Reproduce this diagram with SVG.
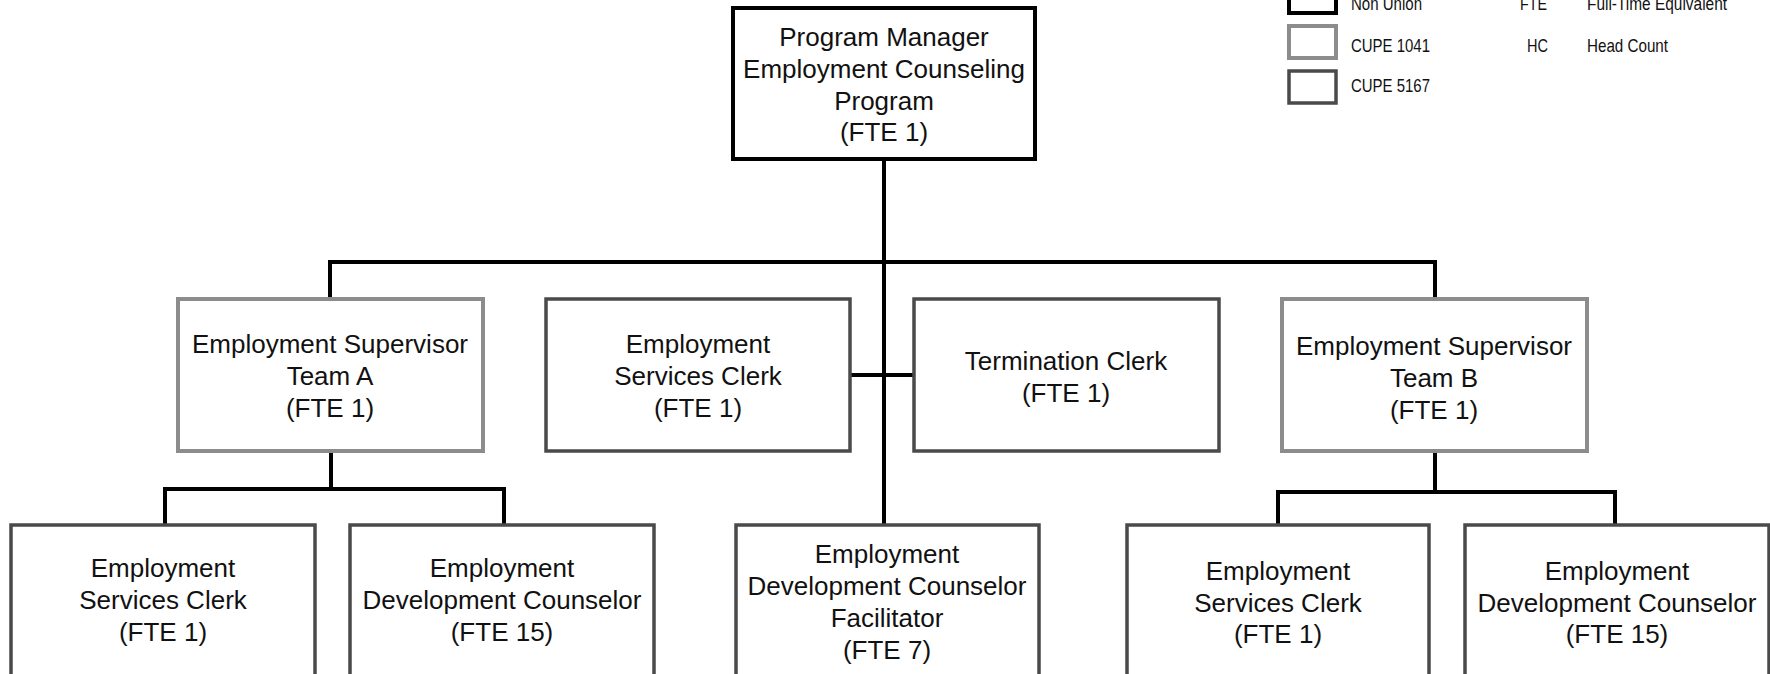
<svg xmlns="http://www.w3.org/2000/svg" width="1770" height="674" viewBox="0 0 1770 674">
<style>
.bg{fill:#ffffff}
.nonunion{fill:#ffffff;stroke:#000000;stroke-width:4}
.c1041{fill:#ffffff;stroke:#8c8c8c;stroke-width:4}
.c5167{fill:#ffffff;stroke:#4a4a4a;stroke-width:3.5}
.conn{fill:none;stroke:#000000;stroke-width:4;stroke-linecap:square}
.t{font-family:"Liberation Sans",Arial,sans-serif;font-size:26px;fill:#111111;text-anchor:middle}
.lg{font-family:"Liberation Sans",Arial,sans-serif;font-size:18.5px;fill:#111111}
</style>
<rect class="bg" x="0" y="0" width="1770" height="674"/>
<g id="connectors">
<path class="conn" d="M884,159 V525"/>
<path class="conn" d="M330,299 V262 H1435 V299"/>
<path class="conn" d="M850,375 H914"/>
<path class="conn" d="M331,451 V489"/>
<path class="conn" d="M165,525 V489 H504 V525"/>
<path class="conn" d="M1435,451 V492"/>
<path class="conn" d="M1278,525 V492 H1615 V525"/>
</g>
<g id="legend">
<rect class="nonunion" x="1289" y="-20" width="47" height="33"/>
<rect class="c1041" x="1289" y="26" width="47" height="32"/>
<rect class="c5167" x="1289" y="71" width="47" height="32"/>
<text class="lg" x="1351" y="10" textLength="71" lengthAdjust="spacingAndGlyphs">Non Union</text>
<text class="lg" x="1351" y="52" textLength="79" lengthAdjust="spacingAndGlyphs">CUPE 1041</text>
<text class="lg" x="1351" y="92" textLength="79" lengthAdjust="spacingAndGlyphs">CUPE 5167</text>
<text class="lg" x="1520" y="10" textLength="27" lengthAdjust="spacingAndGlyphs">FTE</text>
<text class="lg" x="1527" y="52" textLength="21" lengthAdjust="spacingAndGlyphs">HC</text>
<text class="lg" x="1587" y="10" textLength="140" lengthAdjust="spacingAndGlyphs">Full-Time Equivalent</text>
<text class="lg" x="1587" y="52" textLength="81" lengthAdjust="spacingAndGlyphs">Head Count</text>
</g>
<g id="program-manager">
<rect class="nonunion" x="733" y="8" width="302" height="151"/>
<text class="t" x="884" y="46">Program Manager</text>
<text class="t" x="884" y="78">Employment Counseling</text>
<text class="t" x="884" y="110">Program</text>
<text class="t" x="884" y="141">(FTE 1)</text>
</g>
<g id="supervisor-a">
<rect class="c1041" x="178" y="299" width="305" height="152"/>
<text class="t" x="330" y="353">Employment Supervisor</text>
<text class="t" x="330" y="385">Team A</text>
<text class="t" x="330" y="417">(FTE 1)</text>
</g>
<g id="services-clerk-mid">
<rect class="c5167" x="546" y="299" width="304" height="152"/>
<text class="t" x="698" y="353">Employment</text>
<text class="t" x="698" y="385">Services Clerk</text>
<text class="t" x="698" y="417">(FTE 1)</text>
</g>
<g id="termination-clerk">
<rect class="c5167" x="914" y="299" width="305" height="152"/>
<text class="t" x="1066" y="370">Termination Clerk</text>
<text class="t" x="1066" y="402">(FTE 1)</text>
</g>
<g id="supervisor-b">
<rect class="c1041" x="1282" y="299" width="305" height="152"/>
<text class="t" x="1434" y="355">Employment Supervisor</text>
<text class="t" x="1434" y="387">Team B</text>
<text class="t" x="1434" y="419">(FTE 1)</text>
</g>
<g id="services-clerk-a">
<rect class="c5167" x="11" y="525" width="304" height="170"/>
<text class="t" x="163" y="577">Employment</text>
<text class="t" x="163" y="609">Services Clerk</text>
<text class="t" x="163" y="641">(FTE 1)</text>
</g>
<g id="counselor-a">
<rect class="c5167" x="350" y="525" width="304" height="170"/>
<text class="t" x="502" y="577">Employment</text>
<text class="t" x="502" y="609">Development Counselor</text>
<text class="t" x="502" y="641">(FTE 15)</text>
</g>
<g id="counselor-facilitator">
<rect class="c5167" x="736" y="525" width="303" height="170"/>
<text class="t" x="887" y="563">Employment</text>
<text class="t" x="887" y="595">Development Counselor</text>
<text class="t" x="887" y="627">Facilitator</text>
<text class="t" x="887" y="659">(FTE 7)</text>
</g>
<g id="services-clerk-b">
<rect class="c5167" x="1127" y="525" width="302" height="170"/>
<text class="t" x="1278" y="580">Employment</text>
<text class="t" x="1278" y="612">Services Clerk</text>
<text class="t" x="1278" y="643">(FTE 1)</text>
</g>
<g id="counselor-b">
<rect class="c5167" x="1465" y="525" width="304" height="170"/>
<text class="t" x="1617" y="580">Employment</text>
<text class="t" x="1617" y="612">Development Counselor</text>
<text class="t" x="1617" y="643">(FTE 15)</text>
</g>
</svg>
